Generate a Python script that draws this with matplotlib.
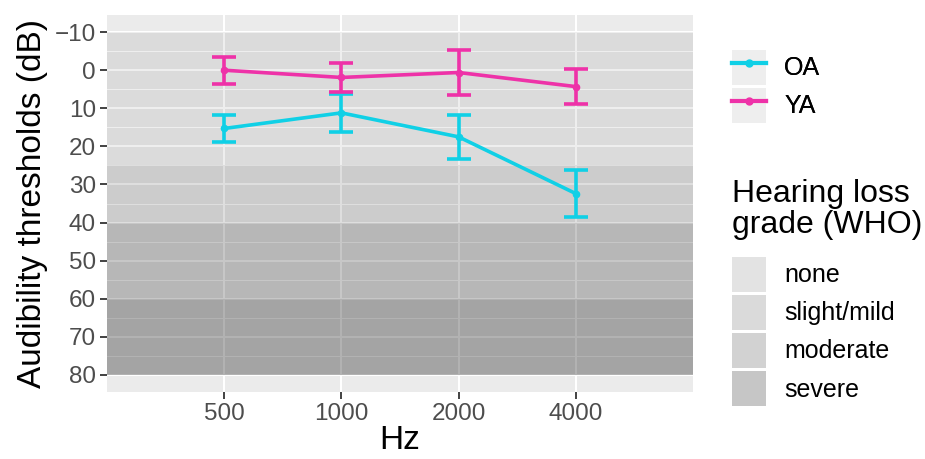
import matplotlib
matplotlib.use("Agg")
import matplotlib.pyplot as plt
from matplotlib.lines import Line2D
from matplotlib.patches import Patch
from matplotlib.legend_handler import HandlerTuple

plt.rcParams["font.family"] = ["Liberation Sans", "DejaVu Sans"]

# audiogram data
freqs = ["500", "1000", "2000", "4000"]
oa_mean = [15.3, 11.2, 17.5, 32.4]
oa_err = [3.5, 5.0, 5.8, 6.1]
ya_mean = [0.0, 1.9, 0.6, 4.3]
ya_err = [3.6, 3.8, 6.0, 4.7]

# WHO hearing loss grades
grades = ["none", "slight/mild", "moderate", "severe"]
grade_lo = [-10, 25, 40, 60]
grade_hi = [25, 40, 60, 80]
grade_alpha = [0.065, 0.13, 0.22, 0.30]
grade_key = ["#E3E3E3", "#DADADA", "#D2D2D2", "#C6C6C6"]

oa_col = "#10D0E6"
ya_col = "#EE32A8"

fig = plt.figure(figsize=(9.25, 4.59), dpi=100)
ax = fig.add_axes([107/925, 1-392/459, (693-107)/925, (392-15)/459])
ax.set_facecolor("#EBEBEB")
for s in ax.spines.values():
    s.set_visible(False)

x = list(range(1, len(freqs)+1))

# grade bands
for lo, hi, a in zip(grade_lo, grade_hi, grade_alpha):
    ax.axhspan(lo, hi, color="black", alpha=a, lw=0, zorder=1)

for m, e, c in [(oa_mean, oa_err, oa_col), (ya_mean, ya_err, ya_col)]:
    ax.errorbar(x, m, yerr=e, color=c, lw=2.6, capsize=8.3, capthick=2.6,
                marker="o", ms=4.5, zorder=3)

ax.set_xlim(0, 5)
ax.set_ylim(84.5, -14.5)
ax.set_xticks(x)
ax.set_xticklabels(freqs)
ax.set_yticks(range(-10, 81, 10))
ax.set_yticklabels(["\u221210"] + [str(v) for v in range(0, 81, 10)])
ax.set_yticks(range(-5, 81, 10), minor=True)
ax.set_axisbelow(True)
ax.grid(True, which="major", color="white", lw=1.5, zorder=0.5)
ax.grid(True, which="minor", axis="y", color="white", lw=0.75, zorder=0.5)
ax.tick_params(axis="both", which="major", labelsize=17.5, labelcolor="#4D4D4D",
               color="#333333", length=5, width=1.3, pad=3)
ax.tick_params(which="minor", length=0)
ax.set_xlabel("Hz", fontsize=24, labelpad=0)
ax.set_ylabel("Audibility thresholds (dB)", fontsize=24, labelpad=5)

# group legend
key_bg = "#EEEEEE"
h1 = [(Patch(facecolor=key_bg, edgecolor="none"),
       Line2D([], [], color=c, lw=3, marker="o", ms=5)) for c in (oa_col, ya_col)]
leg1 = fig.legend(h1, ["OA", "YA"], handler_map={tuple: HandlerTuple(ndivide=1, pad=0)},
                  loc="upper left", bbox_to_anchor=(732/925, 1-50/459), frameon=False,
                  fontsize=18, handlelength=1.36, handleheight=1.75, labelspacing=0.14,
                  handletextpad=0.72, borderpad=0, borderaxespad=0)

# grade legend
fig.text(732/925, 1-179/459, "Hearing loss\ngrade (WHO)", fontsize=23,
         ha="left", va="top", linespacing=1.05)
h2 = [Patch(facecolor=c, edgecolor="none") for c in grade_key]
leg2 = fig.legend(h2, grades, loc="upper left", bbox_to_anchor=(732/925, 1-257/459),
                  frameon=False, fontsize=18, handlelength=1.36, handleheight=1.75,
                  labelspacing=0.14, handletextpad=0.72, borderpad=0, borderaxespad=0)
fig.add_artist(leg1)

fig.savefig("out.png", dpi=100, facecolor="white")
